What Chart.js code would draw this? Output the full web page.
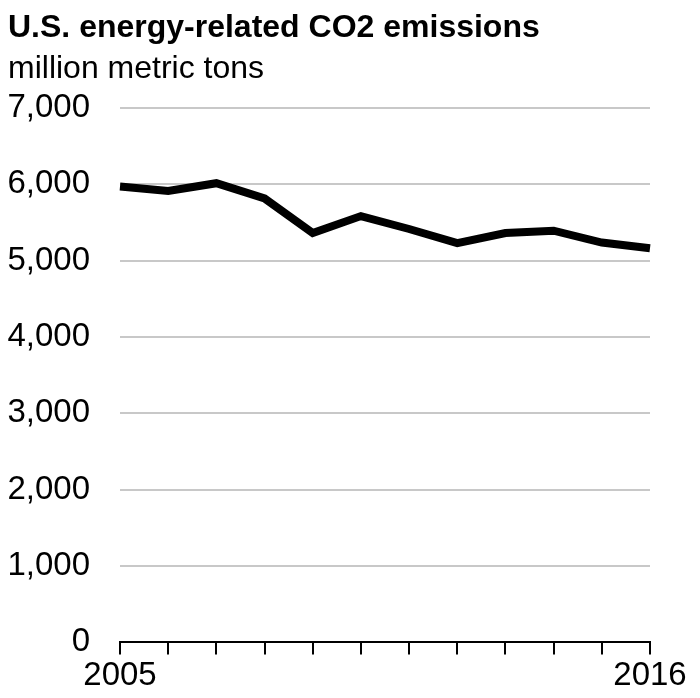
<!DOCTYPE html>
<html>
<head>
<meta charset="utf-8">
<script src="https://cdn.jsdelivr.net/npm/chart.js@4"></script>
<style>
  html, body { margin: 0; padding: 0; background: #fff; }
  canvas { display: block; }
</style>
</head>
<body>
<canvas id="c" width="700" height="698"></canvas>
<script>
const years = ["2005","2006","2007","2008","2009","2010","2011","2012","2013","2014","2015","2016"];
const emissions = [5969, 5911, 6013, 5813, 5360, 5582, 5413, 5227, 5360, 5391, 5236, 5160];
const yTicks = [0, 1000, 2000, 3000, 4000, 5000, 6000, 7000];
const titleText = "U.S. energy-related CO2 emissions";
const subtitleText = "million metric tons";

const FONT = "'Liberation Sans', Arial, Helvetica, sans-serif";

new Chart(document.getElementById('c'), {
  type: 'line',
  data: {
    labels: years,
    datasets: [{
      data: emissions,
      borderColor: '#000',
      borderWidth: 8,
      pointRadius: 0,
      tension: 0,
      fill: false
    }]
  },
  options: {
    responsive: false,
    animation: false,
    layout: { padding: { left: 8, right: 50, top: 0, bottom: 0 } },
    plugins: {
      legend: { display: false },
      tooltip: { enabled: false },
      title: {
        display: true,
        text: titleText,
        align: 'start',
        color: '#000',
        font: { family: FONT, size: 32, weight: 'bold', lineHeight: 1.2 },
        padding: { top: 9, bottom: 2 }
      },
      subtitle: {
        display: true,
        text: subtitleText,
        align: 'start',
        color: '#000',
        font: { family: FONT, size: 32, weight: 'normal', lineHeight: 1.2 },
        padding: { top: 1, bottom: 19 }
      }
    },
    scales: {
      x: {
        type: 'category',
        offset: false,
        grid: {
          display: true,
          drawOnChartArea: false,
          drawTicks: true,
          tickLength: 12,
          color: '#000',
          lineWidth: 2
        },
        border: { display: true, color: '#000', width: 2 },
        ticks: {
          autoSkip: false,
          maxRotation: 0,
          minRotation: 0,
          padding: 2,
          color: '#000',
          font: { family: FONT, size: 33 },
          callback: function(value, index) {
            return (index === 0 || index === years.length - 1) ? years[index] : '';
          }
        }
      },
      y: {
        min: 0,
        max: 7000,
        afterBuildTicks: function(scale) {
          scale.ticks = yTicks.map(v => ({ value: v }));
        },
        afterFit: function(scale) {
          scale.width = 112;
        },
        grid: {
          color: '#c8c8c8',
          lineWidth: 2,
          drawTicks: false
        },
        border: { display: false },
        ticks: {
          padding: 30,
          color: '#000',
          font: { family: FONT, size: 33 },
          callback: function(value) {
            return Number(value).toLocaleString('en-US');
          }
        }
      }
    }
  }
});
</script>
</body>
</html>
